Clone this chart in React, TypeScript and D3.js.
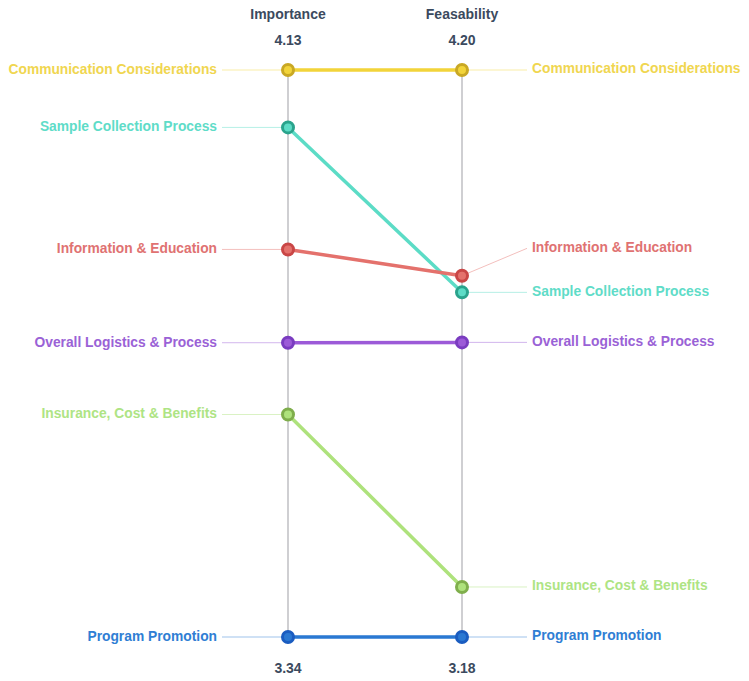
import { useEffect, useRef } from 'react';
import * as d3 from 'd3';

// slope chart data
const categories = [
  'Communication Considerations',
  'Sample Collection Process',
  'Information & Education',
  'Overall Logistics & Process',
  'Insurance, Cost & Benefits',
  'Program Promotion',
];
const importance = [4.13, 4.05, 3.88, 3.75, 3.65, 3.34];
const feasability = [4.2, 3.8, 3.83, 3.71, 3.27, 3.18];
const axisTitles = ['Importance', 'Feasability'];

const lineColors = ['#f2d43a', '#5cdcc6', '#e4716c', '#9c5ad8', '#aee27c', '#2a78d2'];
const dotColors = ['#c9a824', '#2aa38c', '#c94646', '#7a3cc0', '#7fae4c', '#1a5cc0'];
const labelColors = ['#f0d650', '#5fdcc8', '#e07272', '#9a62d6', '#aee484', '#2f7ed4'];

const WIDTH = 749;
const HEIGHT = 681;

// push labels upward so they don't collide
function dodge(ys: number[], gap: number) {
  const order = ys.map((y, i) => i).sort((a, b) => ys[b] - ys[a]);
  const out = ys.slice();
  for (let k = 1; k < order.length; k++) {
    const prev = out[order[k - 1]];
    const cur = order[k];
    if (prev - out[cur] < gap) out[cur] = prev - gap;
  }
  return out;
}

export default function App() {
  const svgRef = useRef<SVGSVGElement>(null);

  useEffect(() => {
    if (!svgRef.current) return;
    const svg = d3.select(svgRef.current);
    svg.selectAll('*').remove();

    const xLeft = 288;
    const xRight = 462;
    const top = 70;
    const bottom = 637;

    const yImp = d3.scaleLinear()
      .domain([d3.min(importance)!, d3.max(importance)!])
      .range([bottom, top]);
    const yFea = d3.scaleLinear()
      .domain([d3.min(feasability)!, d3.max(feasability)!])
      .range([bottom, top]);

    const font = '"Liberation Sans", Arial, Helvetica, sans-serif';
    const g = svg.append('g').style('font-family', font);

    // axis lines
    [xLeft, xRight].forEach((x) => {
      g.append('line')
        .attr('x1', x).attr('x2', x)
        .attr('y1', top).attr('y2', bottom)
        .attr('stroke', '#cfcfd2')
        .attr('stroke-width', 2);
    });

    // axis titles + extremes
    const axes = [
      { x: xLeft, vals: importance },
      { x: xRight, vals: feasability },
    ];
    axes.forEach((a, i) => {
      g.append('text')
        .attr('x', a.x).attr('y', 19)
        .attr('text-anchor', 'middle')
        .style('font-size', '14px')
        .style('font-weight', 'bold')
        .style('fill', '#3b4a5e')
        .text(axisTitles[i]);
      g.append('text')
        .attr('x', a.x).attr('y', 45)
        .attr('text-anchor', 'middle')
        .style('font-size', '14px')
        .style('font-weight', 'bold')
        .style('fill', '#3b4a5e')
        .text(d3.max(a.vals)!.toFixed(2));
      g.append('text')
        .attr('x', a.x).attr('y', 673)
        .attr('text-anchor', 'middle')
        .style('font-size', '14px')
        .style('font-weight', 'bold')
        .style('fill', '#3b4a5e')
        .text(d3.min(a.vals)!.toFixed(2));
    });

    const leftY = importance.map((v) => yImp(v));
    const rightY = feasability.map((v) => yFea(v));
    const leftLabelY = dodge(leftY, 44);
    const rightLabelY = dodge(rightY, 44);

    // leader lines
    categories.forEach((c, i) => {
      const light = d3.color(lineColors[i])!.copy({ opacity: 0.45 }).toString();
      g.append('line')
        .attr('x1', 222).attr('y1', leftLabelY[i])
        .attr('x2', xLeft).attr('y2', leftY[i])
        .attr('stroke', light).attr('stroke-width', 1);
      g.append('line')
        .attr('x1', xRight).attr('y1', rightY[i])
        .attr('x2', 527).attr('y2', rightLabelY[i])
        .attr('stroke', light).attr('stroke-width', 1);
    });

    // slope lines
    categories.forEach((c, i) => {
      g.append('line')
        .attr('x1', xLeft).attr('y1', leftY[i])
        .attr('x2', xRight).attr('y2', rightY[i])
        .attr('stroke', lineColors[i])
        .attr('stroke-width', 3.5)
        .attr('stroke-linecap', 'round');
    });

    // dots
    categories.forEach((c, i) => {
      [[xLeft, leftY[i]], [xRight, rightY[i]]].forEach(([x, y]) => {
        g.append('circle')
          .attr('cx', x).attr('cy', y)
          .attr('r', 5.5)
          .attr('fill', lineColors[i])
          .attr('stroke', dotColors[i])
          .attr('stroke-width', 3);
      });
    });

    // labels
    categories.forEach((c, i) => {
      g.append('text')
        .attr('x', 217).attr('y', leftLabelY[i] - 1)
        .attr('dy', '0.35em')
        .attr('text-anchor', 'end')
        .style('font-size', '13.8px')
        .style('font-weight', 'bold')
        .style('fill', labelColors[i])
        .text(c);
      g.append('text')
        .attr('x', 532).attr('y', rightLabelY[i] - 1.5)
        .attr('dy', '0.35em')
        .attr('text-anchor', 'start')
        .style('font-size', '13.8px')
        .style('font-weight', 'bold')
        .style('fill', labelColors[i])
        .text(c);
    });
  }, []);

  return (
    <div style={{ position: 'absolute', left: 0, top: 0, background: '#fff' }}>
      <svg ref={svgRef} width={WIDTH} height={HEIGHT} />
    </div>
  );
}
